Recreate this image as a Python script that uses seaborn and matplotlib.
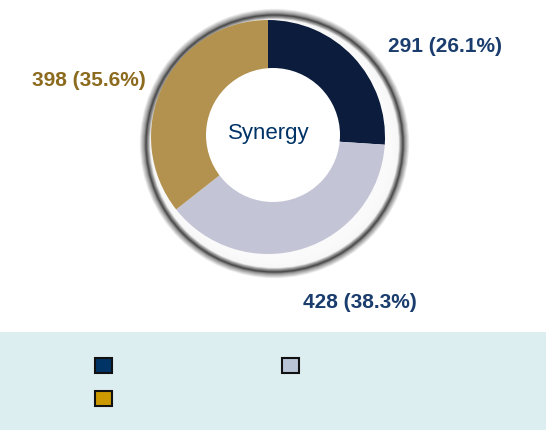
import numpy as np
import matplotlib
matplotlib.use("Agg")
import matplotlib.pyplot as plt
from matplotlib.patches import Circle, Rectangle, Patch
import seaborn as sns

# data
names = ["Navy", "Gold", "Silver"]
values = [291, 398, 428]
slice_order = [0, 2, 1]          # clockwise from 12 o'clock: navy, silver, gold
slice_colors = ["#0b1c3d", "#c3c5d6", "#b3924f"]
legend_colors = ["#003366", "#cc9900", "#b8c4d6"]
label_colors = ["#1a3d6e", "#8c6a1e", "#1a3d6e"]
label_pos = [(445, 46), (89, 81), (360, 302)]   # pixel positions of the value labels
center_text = "Synergy"

sns.set_theme(style="white")
plt.rcParams['font.family'] = ['Liberation Sans', 'DejaVu Sans']

W, H = 546, 430
fig = plt.figure(figsize=(W / 100, H / 100), dpi=100)
ax = fig.add_axes([0, 0, 1, 1])

cx, cy = 268, H - 137
R = 117

# bezel: white band + soft dark rim, shifted to the lower right so it hugs the upper left
off = 6.5
for d in np.linspace(18, 0, 90):
    g = float(np.interp(d, [0, 7, 9, 11.5, 13.5, 18], [0.98, 0.97, 0.62, 0.28, 0.6, 1.0]))
    ax.add_patch(Circle((cx + off, cy - off), R + d, facecolor=(g, g, g),
                        edgecolor="none", zorder=1))

total = sum(values)
vals = [values[i] for i in slice_order]
ax.pie(vals, colors=slice_colors, startangle=90, counterclock=False, center=(cx, cy),
       radius=R, wedgeprops=dict(linewidth=0), frame=True)
for w in ax.patches[-3:]:
    w.set_zorder(2)

# hole
ax.add_patch(Circle((273, H - 135), 67, facecolor="white", edgecolor="none", zorder=3))
ax.text(269, H - 133, center_text, ha="center", va="center", fontsize=16,
        color="#003366", zorder=4)

for v, c, (px, py) in zip(values, label_colors, label_pos):
    ax.text(px, H - py, f"{v} ({v / total * 100:.1f}%)", ha="center", va="center",
            fontsize=15, fontweight="bold", color=c, zorder=4)

# legend panel
ax.add_patch(Rectangle((0, 0), W, H - 332, facecolor="#ddeef1", edgecolor="none", zorder=1))
handles = [Patch(facecolor=c, edgecolor="#111111", linewidth=1.5) for c in legend_colors]
ax.legend(handles, [" "] * 3, ncol=2, loc="upper left", bbox_to_anchor=(95, H - 358),
          bbox_transform=ax.transData, frameon=False, fontsize=10, borderpad=0,
          handlelength=1.25, handleheight=1.3, handletextpad=0, columnspacing=11.9,
          labelspacing=1.25, borderaxespad=0)

ax.set_xlim(0, W)
ax.set_ylim(0, H)
ax.set_aspect("auto")
ax.axis("off")

fig.savefig("out.png", dpi=100)
